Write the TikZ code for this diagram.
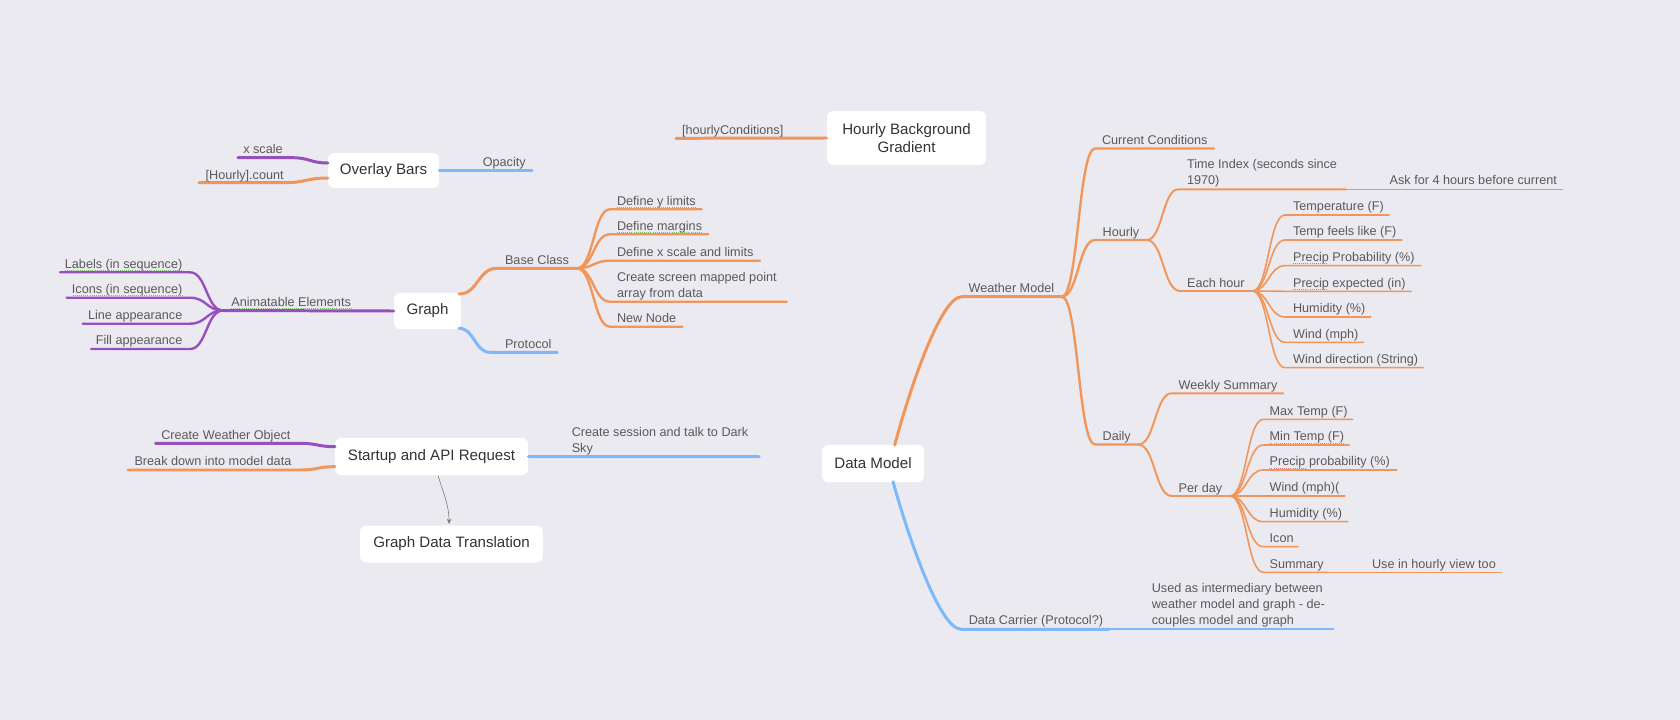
\documentclass[tikz,border=0pt]{standalone}
\usepackage{fontspec}
\setmainfont{Liberation Sans}
\usetikzlibrary{calc,arrows.meta}
\definecolor{bgc}{HTML}{EBEAF0}
\definecolor{mmorange}{HTML}{F0965A}
\definecolor{mmpurple}{HTML}{9650BE}
\definecolor{mmblue}{HTML}{7DB9FA}
\definecolor{lbltext}{HTML}{5A5A5A}
\definecolor{nodetext}{HTML}{333333}
\definecolor{arrowgray}{HTML}{7A7A7A}
\definecolor{spellgreen}{HTML}{7DBB6A}
\definecolor{spellred}{HTML}{E07A7A}
\tikzset{
  hb/.style={to path={let \p1=(\tikztostart), \p2=(\tikztotarget) in
     .. controls ({0.5*\x1+0.5*\x2},\y1) and ({0.5*\x1+0.5*\x2},\y2) .. (\tikztotarget) \tikztonodes}},
  box/.style={fill=white, rounded corners=3.5pt, inner sep=0pt, text=nodetext,
     font=\fontsize{8.6}{10.4}\selectfont, align=center},
  lbl/.style={font=\fontsize{7.2}{8.85}\selectfont, text=lbltext, inner sep=0pt, align=left},
  lw/.style={lbl, anchor=base west},
  le/.style={lbl, anchor=base east},
  lone/.style={line width=1.7pt, line cap=round},
  ltwo/.style={line width=1.35pt, line cap=round},
  lthree/.style={line width=1.1pt, line cap=round},
  lfour/.style={line width=0.9pt, line cap=round},
  lfive/.style={line width=0.6pt, line cap=round},
  spg/.style={spellgreen, line width=0.55pt, dash pattern=on 0.45pt off 0.75pt},
  spr/.style={spellred, line width=0.55pt, dash pattern=on 0.45pt off 0.75pt},
}
\begin{document}
\begin{tikzpicture}[x=0.02cm,y=-0.02cm]
\fill[bgc] (0,0) rectangle (1680,720);
\useasboundingbox (0,0) rectangle (1680,720);

% ---------- boxes
\node[box, minimum width=2.22cm, minimum height=0.70cm] (ob) at (383.5,170.5) {Overlay Bars};
\node[box, minimum width=3.18cm, minimum height=1.08cm] (hbg) at (906.5,138) {Hourly Background\\Gradient};
\node[box, minimum width=1.34cm, minimum height=0.72cm] (gr) at (427.5,311) {Graph};
\node[box, minimum width=3.86cm, minimum height=0.74cm] (su) at (431.5,456.5) {Startup and API Request};
\node[box, minimum width=3.66cm, minimum height=0.74cm] (gdt) at (451.5,544) {Graph Data Translation};
\node[box, minimum width=2.04cm, minimum height=0.74cm] (dm) at (873,463.5) {Data Model};

% ---------- Overlay Bars
\coordinate (obA) at (328,163);
\coordinate (xsS) at (292,157.7); \coordinate (xsE) at (238,157.7);
\coordinate (obB) at (328,178);
\coordinate (hcS) at (284,182.7); \coordinate (hcE) at (199,182.7);
\coordinate (opE) at (532,170.5);
\draw[mmpurple, lone] (obA) to[hb] (xsS) -- (xsE);
\draw[mmorange, lone] (obB) to[hb] (hcS) -- (hcE);
\draw[mmblue, lone] (ob.east) -- (opE);
\node[le] (xsL) at (283,153) {x scale};
\node[le] (hcL) at (284,179) {[Hourly].count};
\node[le] (opL) at (526,166.7) {Opacity};
\draw[spg] (hcL.base west) ++(0,2.2) -- ++(78,0);

% ---------- Hourly Background Gradient
\coordinate (hyE) at (676,138.3);
\draw[mmorange, lone] (hbg.west) -- (hyE);
\node[lw] (hyL) at (681.7,134.3) {[hourlyConditions]};

% ---------- Graph
\coordinate (grA) at (459,294);
\coordinate (bcS) at (497,268.3); \coordinate (bcE) at (577,268.3);
\coordinate (grB) at (459,328.3);
\coordinate (prS) at (490,352.3); \coordinate (prE) at (557.3,352.3);
\coordinate (aeE) at (223,310.5);
\draw[mmorange, lone] (grA) to[hb] (bcS) -- (bcE);
\draw[mmblue, lone] (grB) to[hb] (prS) -- (prE);
\draw[mmpurple, lone] (gr.west) -- (aeE);
\node[lw] (bcL) at (504.7,264) {Base Class};
\node[lw] (prL) at (504.7,348.7) {Protocol};
\node[lw] (aeL) at (231,306.7) {Animatable Elements};
\draw[spg] (aeL.base west) ++(0,2) -- (aeL.base east |- 0,308.7);

% Animatable children
\foreach \nm/\yy/\xe/\tx in {la/272.3/60/Labels (in sequence), ic/297.7/66.7/Icons (in sequence), lp/323.7/82.7/Line appearance, fp/349/91/Fill appearance}{
  \coordinate (\nm S) at (190,\yy); \coordinate (\nm E) at (\xe,\yy);
  \draw[mmpurple, ltwo] (aeE) to[hb] (\nm S) -- (\nm E);
  \node[le] (\nm L) at (182.7,\yy-4.3) {\tx};
}
\draw[spg] (65,270) -- (182.7,270);
\draw[spg] (72.7,295.4) -- (182.7,295.4);

% Base class children
\foreach \nm/\yy/\xe/\tx in {dy/209.3/701.7/Define y limits, dg/234.3/708.3/Define margins, dx/260.7/760/Define x scale and limits, nn/326.7/682.3/New Node}{
  \coordinate (\nm S) at (610,\yy); \coordinate (\nm E) at (\xe,\yy);
  \draw[mmorange, ltwo] (bcE) to[hb] (\nm S) -- (\nm E);
  \node[lw] (\nm L) at (616.7,\yy-4.2) {\tx};
}
\draw[spg] (616.7,207) -- (695,207);
\draw[spg] (616.7,232) -- (702.7,232);
\coordinate (csS) at (610,301.7); \coordinate (csE) at (786.7,301.7);
\draw[mmorange, ltwo] (bcE) to[hb] (csS) -- (csE);
\node[lw] (csL) at (616.7,297.3) {Create screen mapped point\\array from data};

% ---------- Startup and API Request
\coordinate (suA) at (335,446.7);
\coordinate (cwS) at (300,443.3); \coordinate (cwE) at (155.5,443.3);
\coordinate (suB) at (335,466.7);
\coordinate (bdS) at (300,470); \coordinate (bdE) at (128.2,470);
\coordinate (ctE) at (759.2,456.7);
\draw[mmpurple, lone] (suA) to[hb] (cwS) -- (cwE);
\draw[mmorange, lone] (suB) to[hb] (bdS) -- (bdE);
\draw[mmblue, lone] (su.east) -- (ctE);
\node[le] (cwL) at (290.8,439.3) {Create Weather Object};
\node[le] (bdL) at (291.7,465) {Break down into model data};
\node[lw] (ctL) at (571.4,452.3) {Create session and talk to Dark\\Sky};

\coordinate (arS) at (438.2,476);
\coordinate (arE) at (449.1,524);
\draw[arrowgray, line width=0.35pt, -{Stealth[length=3pt,width=2.6pt]}] (arS) .. controls (443,492) and (449,505) .. (arE);

% ---------- Data Model
\coordinate (dmA) at (894.7,445);
\coordinate (wmS) at (961.7,296.7); \coordinate (wmE) at (1061.7,296.7);
\coordinate (dmB) at (893,481.7);
\coordinate (dcS) at (961.3,629.3); \coordinate (dcE) at (1108.7,629.3);
\coordinate (uiE) at (1333.2,629.3);
\draw[mmorange, lone] (dmA) .. controls (908,395) and (940,296.7) .. (wmS) -- (wmE);
\draw[mmblue, lone] (dmB) .. controls (907,532) and (939,629.3) .. (dcS) -- (dcE);
\draw[mmblue, ltwo] (dcE) -- (uiE);
\node[lw] (wmL) at (968.3,292) {Weather Model};
\node[lw] (dcL) at (968.4,624.5) {Data Carrier (Protocol?)};
\node[lw] (uiL) at (1151.5,624) {Used as intermediary between\\weather model and graph - de-\\couples model and graph};

% Weather model children
\coordinate (ccS) at (1095,148.5); \coordinate (ccE) at (1214,148.5);
\coordinate (hoS) at (1095,240); \coordinate (hoE) at (1146.7,240);
\coordinate (daS) at (1095,444.5); \coordinate (daE) at (1138.3,444.5);
\draw[mmorange, ltwo] (wmE) to[hb] (ccS) -- (ccE);
\draw[mmorange, ltwo] (wmE) to[hb] (hoS) -- (hoE);
\draw[mmorange, ltwo] (wmE) to[hb] (daS) -- (daE);
\node[lw] (ccL) at (1101.7,144.7) {Current Conditions};
\node[lw] (hoL) at (1102.3,236) {Hourly};
\node[lw] (daL) at (1102.3,440.5) {Daily};

% Hourly children
\coordinate (tiS) at (1178.3,189.3); \coordinate (tiE) at (1346,189.3);
\coordinate (afE) at (1562.7,189.3);
\coordinate (ehS) at (1180,291); \coordinate (ehE) at (1252.3,291);
\draw[mmorange, lthree] (hoE) to[hb] (tiS) -- (tiE);
\draw[mmorange, lfive] (tiE) -- (afE);
\draw[mmorange, lthree] (hoE) to[hb] (ehS) -- (ehE);
\node[lw] (tiL) at (1186.7,184.3) {Time Index (seconds since\\1970)};
\node[lw] (afL) at (1389.3,184.3) {Ask for 4 hours before current};
\node[lw] (ehL) at (1186.7,287) {Each hour};

% Each hour children
\foreach \nm/\yy/\xe/\tx in {tf/215/1389/Temperature (F), tl/240/1401.7/Temp feels like (F), pp/265.7/1420.7/Precip Probability (\%), pe/291.3/1411/Precip expected (in), hu/317/1370.7/Humidity (\%), wi/342.3/1363.3/Wind (mph), wd/367.7/1423.3/Wind direction (String)}{
  \coordinate (\nm S) at (1285,\yy); \coordinate (\nm E) at (\xe,\yy);
  \draw[mmorange, lfour] (ehE) to[hb] (\nm S) -- (\nm E);
  \node[lw] (\nm L) at (1292.7,\yy-4.2) {\tx};
}
\draw[spr] (1292.7,263.8) -- (1328.3,263.8);
\draw[spr] (1292.7,289.4) -- (1328.3,289.4);

% Daily children
\coordinate (wsS) at (1171.7,393.3); \coordinate (wsE) at (1283.3,393.3);
\coordinate (pdS) at (1171.7,496); \coordinate (pdE) at (1230,496);
\draw[mmorange, lthree] (daE) to[hb] (wsS) -- (wsE);
\draw[mmorange, lthree] (daE) to[hb] (pdS) -- (pdE);
\node[lw] (wsL) at (1178.3,389.3) {Weekly Summary};
\node[lw] (pdL) at (1178.3,492) {Per day};

% Per day children
\foreach \nm/\yy/\xe/\tx in {mx/419.3/1352.7/Max Temp (F), mn/445/1349.3/Min Temp (F), pb/470/1396.7/Precip probability (\%), wm/496/1345/Wind (mph)(, hd/521.7/1347.7/Humidity (\%), io/546.7/1298.3/Icon, sm/572.3/1328.3/Summary}{
  \coordinate (\nm S) at (1263.3,\yy); \coordinate (\nm E) at (\xe,\yy);
  \draw[mmorange, lfour] (pdE) to[hb] (\nm S) -- (\nm E);
  \node[lw] (\nm L) at (1269.3,\yy-4.2) {\tx};
}
\draw[spg] (1269.3,443.1) -- (1344,443.1);
\draw[spr] (1269.3,468.1) -- (1306,468.1);
\coordinate (uhE) at (1501.7,572.3);
\draw[mmorange, lfive] (smE) -- (uhE);
\node[lw] (uhL) at (1371.7,568) {Use in hourly view too};

\end{tikzpicture}
\end{document}
